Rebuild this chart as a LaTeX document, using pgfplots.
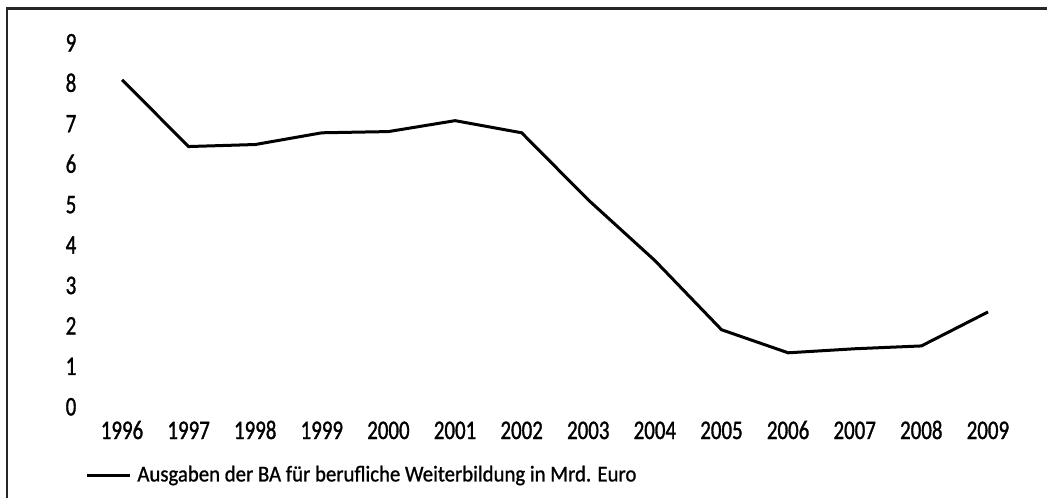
\documentclass[border=0pt]{standalone}
\usepackage{fontspec}
\setmainfont{Carlito}[FakeStretch=0.78, Numbers=Lining, FakeBold=1.2, BoldFont=Carlito]
\newfontfamily\legfont{Carlito}[FakeStretch=0.92, Numbers=Lining, FakeBold=1.0, BoldFont=Carlito]
\usepackage{pgfplots}
\pgfplotsset{compat=1.18}
\begin{document}
\begin{tikzpicture}
\useasboundingbox (0,0) rectangle (523.5bp,249bp);
\draw[line width=1.1bp, black!85] (3.5bp,0) -- (3.5bp,244.75bp) -- (523.5bp,244.75bp);
\begin{axis}[
  at={(61bp,45.5bp)}, anchor=south west,
  scale only axis, width=433bp, height=182bp,
  xmin=1996, xmax=2009, ymin=0, ymax=9,
  axis line style={draw=none},
  xtick={1996,...,2009}, ytick={0,...,9},
  /pgf/number format/assume math mode=true,
  /pgf/number format/1000 sep={},
  tick style={draw=none},
  yticklabel style={anchor=base, inner sep=0pt, xshift=-25.5bp, yshift=-4.2bp, font=\bfseries\fontsize{13.4bp}{14bp}\selectfont},
  xticklabel style={anchor=base, inner sep=0pt, yshift=-16bp, font=\bfseries\fontsize{13.4bp}{14bp}\selectfont},
  legend style={draw=none, fill=none, at={(-0.0427,-0.187)}, anchor=west, inner sep=0pt,
    font=\legfont\bfseries\fontsize{11.3bp}{12bp}\selectfont, nodes={inner xsep=3bp}},
  legend image code/.code={\draw[#1] (0bp,0bp) -- (21.5bp,0bp);},
  clip=false,
]
\addplot[black, line width=1.5bp] coordinates {
(1996,8.09) (1997,6.44) (1998,6.49) (1999,6.78) (2000,6.81) (2001,7.08) (2002,6.78)
(2003,5.12) (2004,3.62) (2005,1.91) (2006,1.34) (2007,1.44) (2008,1.51) (2009,2.35)
};
\addlegendentry{Ausgaben der BA für berufliche Weiterbildung in Mrd. Euro}
\end{axis}
\end{tikzpicture}
\end{document}
